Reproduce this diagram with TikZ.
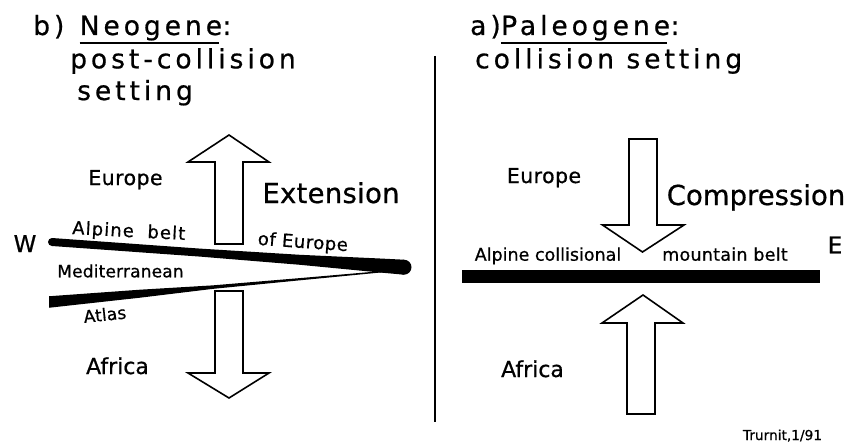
\documentclass[tikz,border=0pt]{standalone}
\usepackage{fontspec}
\setmainfont{DejaVu Sans}
\newcommand\fs[2]{\fontsize{#1}{#1}\selectfont\addfontfeatures{LetterSpace=#2,FakeBold=0.7}}
\begin{document}
\begin{tikzpicture}[x=1pt,y=-1pt,
  lbl/.style={inner sep=0pt, anchor=base},
  ttl/.style={inner sep=0pt, anchor=base west, font=\fs{26.5}{15}},
  uline/.style={line width=1.8pt},
  arrowshape/.style={draw=black, fill=white, line width=1.6pt, line join=miter},
  belt/.style={fill=black}]
\useasboundingbox[fill=white] (0,0) rectangle (851,444);

% titles
\node[ttl] (tb1a) at (33,35) {b)};
\node[ttl] (tb1b) at ([xshift=15pt]tb1a.base east) {Neogene};
\node[ttl] (tb1c) at (tb1b.base east) {:};
\draw[uline] ([yshift=-7.7pt]tb1b.base west) -- ([xshift=-3pt,yshift=-7.7pt]tb1b.base east);
\node[ttl] (tb2) at (70,68.3) {post-collision};
\node[ttl] (tb3) at (77,100) {setting};
\node[ttl] (ta1a) at (470,35) {a)};
\node[ttl] (ta1b) at (ta1a.base east) {Paleogene};
\node[ttl] (ta1c) at (ta1b.base east) {:};
\draw[uline] ([yshift=-7.7pt]ta1b.base west) -- ([xshift=-3pt,yshift=-7.7pt]ta1b.base east);
\node[ttl] (ta2) at (475,68.3) {collision setting};

% divider
\coordinate (divtop) at (434.5,56);
\coordinate (divbot) at (434.5,422);
\draw[line width=2pt] (divtop) -- (divbot);

% left belts
\fill[belt] (52,238) -- (200,248.6) -- (300,254.8) -- (380,258.5) -- (404,259.7)
  -- (404,274.7) -- (380,272.5) -- (300,264.8) -- (200,256.6) -- (52,246) -- cycle;
\fill[belt] (404,267.2) circle[radius=7.5];
\fill[belt] (52,242) circle[radius=4];
\fill[belt] (49,296.25) -- (140,289.7) -- (213,285.35) -- (300,278.1) -- (395,269.9)
  -- (395,271.1) -- (300,280.3) -- (213,288.85) -- (140,297.7) -- (49,307.75) -- cycle;

% right belt
\fill[belt] (462,270) rectangle (820,283);

% left arrows
\draw[arrowshape] (215,244) -- (215,162) -- (188,162) -- (229,135) -- (269,162) -- (243,162) -- (243,244) -- cycle;
\draw[arrowshape] (215,291) -- (243,291) -- (243,373) -- (269,373) -- (229,398) -- (188,373) -- (215,373) -- cycle;

% right arrows
\draw[arrowshape] (629,139) -- (657,139) -- (657,225) -- (684,225) -- (642.5,252) -- (602.5,225) -- (629,225) -- cycle;
\draw[arrowshape] (627,414) -- (627,323) -- (602,323) -- (643,295) -- (683,323) -- (655,323) -- (655,414) -- cycle;

% left labels
\node[lbl, font=\fs{20.5}{2}] (eul) at (125.5,185) {Europe};
\node[lbl, font=\fs{27.5}{1}] (ext) at (331,203) {Extension};
\node[lbl, font=\fs{23}{0}] (w) at (25,252) {W};
\node[lbl, font=\fs{18}{6}, rotate=-3] (ab) at (128.5,237) {Alpine\ \ belt};
\node[lbl, font=\fs{18}{3}, rotate=-4] (oe) at (302.5,248) {of Europe};
\node[lbl, font=\fs{17}{1}] (med) at (120.5,277.3) {Mediterranean};
\node[lbl, font=\fs{17}{1}, rotate=6] (atl) at (105.5,320.7) {Atlas};
\node[lbl, font=\fs{22}{0}] (afl) at (117.5,374) {Africa};

% right labels
\node[lbl, font=\fs{20.5}{2}] (eur) at (544,183) {Europe};
\node[lbl, font=\fs{27.5}{0}] (comp) at (756,205) {Compression};
\node[lbl, font=\fs{23}{0}] (e) at (835,253.3) {E};
\node[lbl, font=\fs{17.5}{0}] (ac) at (548,260.7) {Alpine collisional};
\node[lbl, font=\fs{17.5}{1.5}] (mb) at (725,260.7) {mountain belt};
\node[lbl, font=\fs{22}{0}] (afr) at (532.5,377) {Africa};
\node[lbl, font=\fs{13.7}{0}] (sig) at (782.5,440) {Trurnit,1/91};
\end{tikzpicture}
\end{document}
